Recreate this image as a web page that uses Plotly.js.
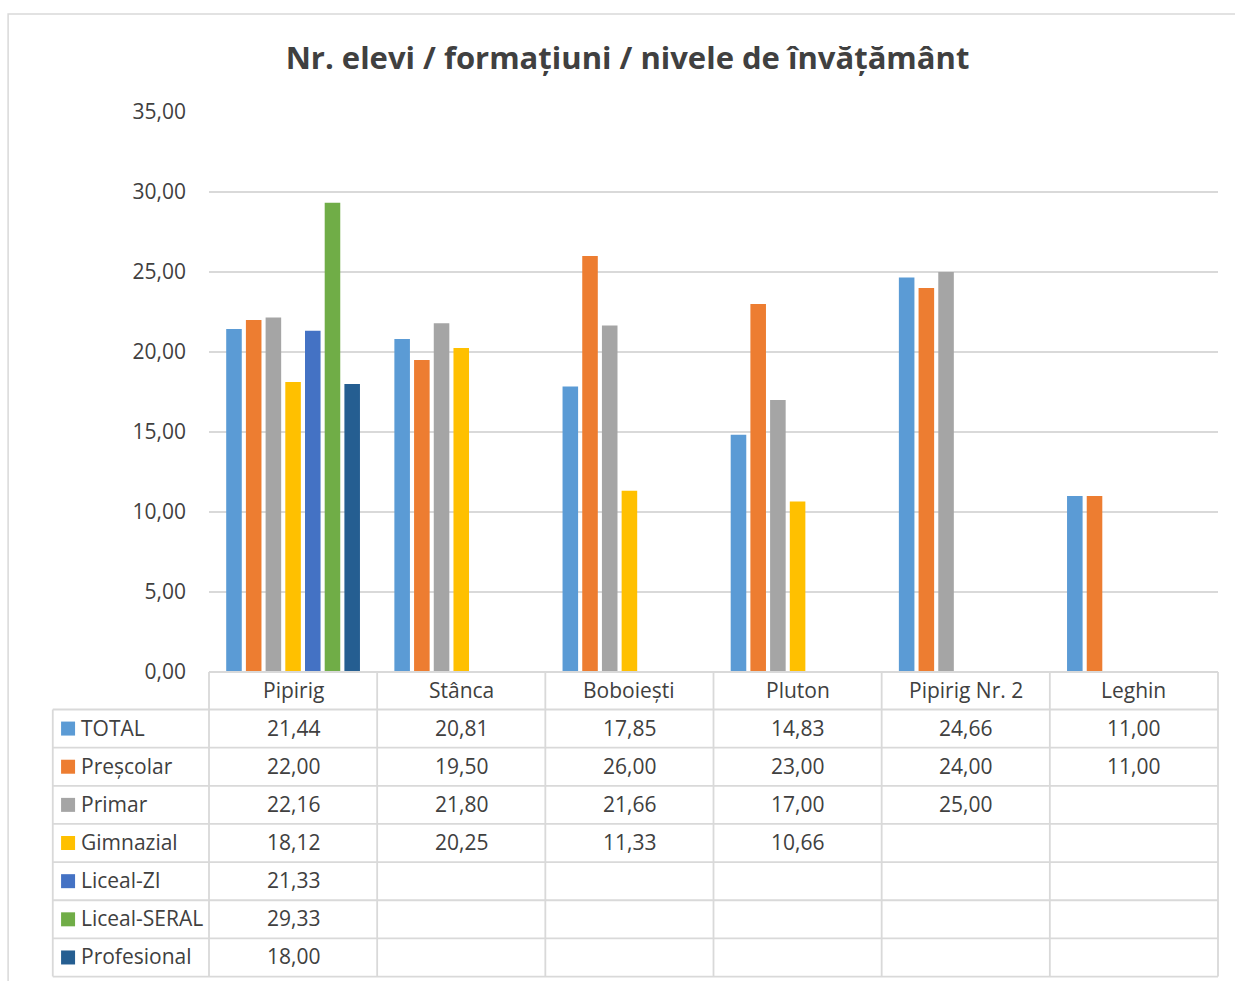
<!DOCTYPE html>
<html>
<head>
<meta charset="utf-8">
<script src="https://cdn.plot.ly/plotly-3.0.1.min.js"></script>
<style>html,body{margin:0;padding:0;background:#fff;}#chart{width:1235px;height:981px;}</style>
</head>
<body>
<div id="chart"></div>
<script>
// ---- data ----
var categories = ["Pipirig", "Stânca", "Boboiești", "Pluton", "Pipirig Nr. 2", "Leghin"];
var seriesNames = ["TOTAL", "Preșcolar", "Primar", "Gimnazial", "Liceal-ZI", "Liceal-SERAL", "Profesional"];
var total       = [21.44, 20.81, 17.85, 14.83, 24.66, 11.00];
var prescolar   = [22.00, 19.50, 26.00, 23.00, 24.00, 11.00];
var primar      = [22.16, 21.80, 21.66, 17.00, 25.00, null];
var gimnazial   = [18.12, 20.25, 11.33, 10.66, null, null];
var licealZi    = [21.33, null, null, null, null, null];
var licealSeral = [29.33, null, null, null, null, null];
var profesional = [18.00, null, null, null, null, null];
var yTicks = [0, 5, 10, 15, 20, 25, 30, 35];

var seriesValues = [total, prescolar, primar, gimnazial, licealZi, licealSeral, profesional];
var colors = ["#5B9BD5", "#ED7D31", "#A5A5A5", "#FFC000", "#4472C4", "#70AD47", "#255E91"];

var FONT = "'Open Sans', Lato, sans-serif";
var TXT = "#404040";
var LINE = "#D9D9D9";
var FS = 21;

// geometry helpers (pixel -> paper)
var L = 209, R = 1218.5, T = 112, B = 672;
var W = R - L, H = B - T;
function px(x) { return (x - L) / W; }
function py(y) { return (B - y) / H; }

var traces = seriesValues.map(function (vals, i) {
  return {
    type: "bar",
    name: seriesNames[i],
    x: categories,
    y: vals,
    marker: { color: colors[i], line: { width: 0 } },
    showlegend: false,
    hoverinfo: "x+y+name"
  };
});

var shapes = [];
var annotations = [];

// outer chart border
shapes.push({ type: "rect", xref: "paper", yref: "paper",
  x0: px(8), x1: px(1245), y0: py(14), y1: py(995),
  line: { color: LINE, width: 1.5 }, fillcolor: "rgba(0,0,0,0)", layer: "below" });

// table geometry
var headerTop = 672, headerBottom = 709.5, pitch = 38.15;
var nRows = seriesNames.length;
var tableBottom = headerBottom + pitch * nRows;
var leftEdge = 52.7;

// horizontal lines
shapes.push({ type: "line", xref: "paper", yref: "paper", x0: 0, x1: 1, y0: py(headerTop), y1: py(headerTop),
  line: { color: LINE, width: 1.8 } });
for (var r = 0; r <= nRows; r++) {
  var yy = headerBottom + pitch * r;
  shapes.push({ type: "line", xref: "paper", yref: "paper", x0: px(leftEdge), x1: 1, y0: py(yy), y1: py(yy),
    line: { color: LINE, width: 1.8 } });
}
// vertical lines
shapes.push({ type: "line", xref: "paper", yref: "paper", x0: px(leftEdge), x1: px(leftEdge),
  y0: py(headerBottom), y1: py(tableBottom), line: { color: LINE, width: 1.8 } });
for (var c = 0; c <= categories.length; c++) {
  var xx = c / categories.length;
  shapes.push({ type: "line", xref: "paper", yref: "paper", x0: xx, x1: xx,
    y0: py(headerTop), y1: py(tableBottom), line: { color: LINE, width: 1.8 } });
}

// header labels
categories.forEach(function (cat) {
  annotations.push({ xref: "x", yref: "paper", x: cat, y: py((headerTop + headerBottom) / 2 - 1),
    text: cat, showarrow: false, xanchor: "center", yanchor: "middle",
    font: { family: FONT, size: FS, color: TXT } });
});

function fmt(v) { return v.toFixed(2).replace(".", ","); }

// rows
seriesNames.forEach(function (name, i) {
  var cy = headerBottom + pitch * i + pitch / 2;
  shapes.push({ type: "rect", xref: "paper", yref: "paper",
    x0: px(61), x1: px(75), y0: py(cy - 7), y1: py(cy + 7),
    fillcolor: colors[i], line: { width: 0 } });
  annotations.push({ xref: "paper", yref: "paper", x: px(79), y: py(cy - 1),
    text: name, showarrow: false, xanchor: "left", yanchor: "middle",
    font: { family: FONT, size: FS, color: TXT } });
  seriesValues[i].forEach(function (v, j) {
    if (v === null) return;
    annotations.push({ xref: "x", yref: "paper", x: categories[j], y: py(cy - 1),
      text: fmt(v), showarrow: false, xanchor: "center", yanchor: "middle",
      font: { family: FONT, size: FS, color: TXT } });
  });
});

var layout = {
  width: 1235, height: 981,
  margin: { l: L, r: 1235 - R, t: T, b: 981 - B, pad: 0 },
  paper_bgcolor: "#fff", plot_bgcolor: "#fff",
  separators: ",.",
  barmode: "group",
  bargap: 0.18,
  bargroupgap: 0.21,
  title: { text: "Nr. elevi / formațiuni / nivele de învățământ",
    font: { family: FONT, size: 31, color: TXT, weight: "bold" },
    x: 627.5 / 1235, xanchor: "center", xref: "container",
    y: 1 - 58 / 981, yanchor: "middle", yref: "container" },
  xaxis: { type: "category", categoryorder: "array", categoryarray: categories,
    range: [-0.5, categories.length - 0.5], showticklabels: false, ticks: "",
    showgrid: false, zeroline: false, showline: false, fixedrange: true },
  yaxis: { range: [0, 35], tickvals: yTicks, tickformat: ".2f",
    showgrid: true, gridcolor: LINE, gridwidth: 1.5, zeroline: false, showline: false,
    ticks: "", ticklabelstandoff: 22,
    tickfont: { family: FONT, size: FS, color: TXT }, fixedrange: true },
  shapes: shapes,
  annotations: annotations
};

Plotly.newPlot("chart", traces, layout, { displayModeBar: false, staticPlot: true });
</script>
</body>
</html>
